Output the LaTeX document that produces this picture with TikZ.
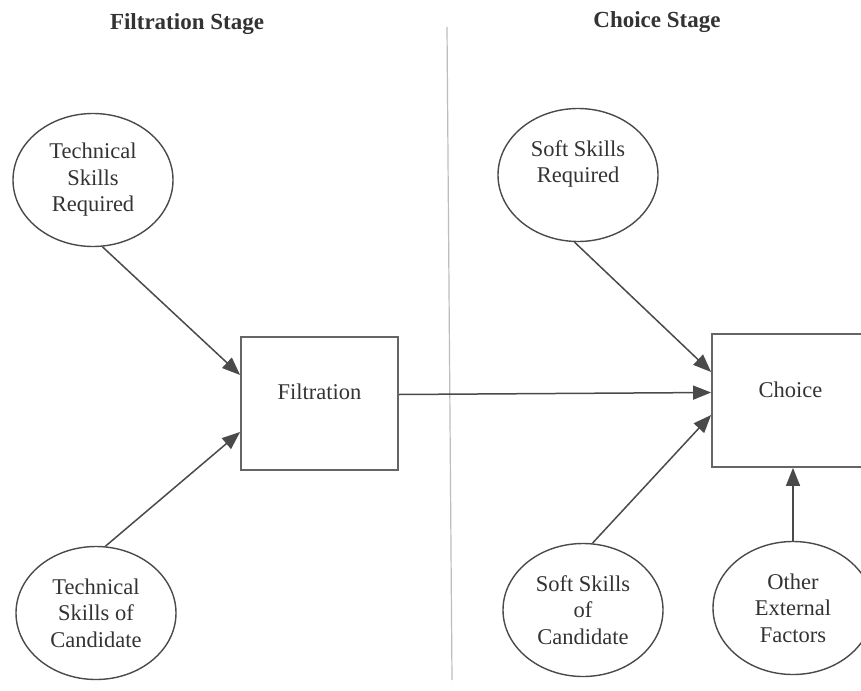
\documentclass[tikz,border=0pt]{standalone}
\usepackage{fontspec}
\setmainfont{Liberation Serif}
\usetikzlibrary{shapes.geometric,arrows.meta}
\definecolor{ink}{HTML}{333333}
\definecolor{edge}{HTML}{4A4A4A}
\definecolor{sep}{HTML}{BDBDBD}
\tikzset{
  bubble/.style={ellipse, draw=edge, line width=1.4pt, minimum width=160pt, minimum height=133pt, inner sep=0pt, align=center, text=ink, font=\fontsize{22.5}{26.5}\selectfont},
  stagebox/.style={rectangle, draw=edge!85, line width=1.8pt, minimum width=157pt, minimum height=133pt, inner sep=0pt, text=ink, font=\fontsize{22.5}{26.5}\selectfont},
  title/.style={text=ink, font=\fontsize{23}{26}\selectfont\bfseries},
  link/.style={draw=edge, line width=1.5pt, -{Triangle[length=18pt,width=14pt]}},
  divider/.style={draw=sep, line width=1.2pt}
}
\begin{document}
\begin{tikzpicture}[x=1pt,y=-1pt]
\clip (0,0) rectangle (861,690);
\fill[white] (0,0) rectangle (861,690);
% titles
\node[title] (t1) at (187,24) {Filtration Stage};
\node[title] (t2) at (657,22) {Choice Stage};
% divider
\coordinate (s1) at (447,27);
\coordinate (s2) at (452,680);
\draw[divider] (s1) -- (s2);
% ellipses
\node[bubble] (treq) at (93,180) {Technical\\Skills\\Required};
\node[bubble] (tcand) at (96,613) {Technical\\Skills of\\Candidate};
\node[bubble] (sreq) at (578,175) {Soft Skills\\Required\\~};
\node[bubble] (scand) at (583,610) {Soft Skills\\of\\Candidate};
\node[bubble] (other) at (793,608) {Other\\External\\Factors};
% boxes
\node[stagebox] (filt) at (319.5,403.5) {\raisebox{4.5pt}[0pt][0pt]{Filtration}};
\node[stagebox] (choice) at (790.5,400.5) {\raisebox{3.5pt}[0pt][0pt]{Choice}};
% connectors
\draw[link] (treq.-82) -- ([yshift=28.5pt]filt.west);
\draw[link] (tcand.82) -- ([yshift=-28.5pt]filt.west);
\draw[link] ([yshift=9pt]filt.east) -- ([yshift=8pt]choice.west);
\draw[link] (sreq.-93) -- ([yshift=28.5pt]choice.west);
\draw[link] (scand.82) -- ([yshift=-14.5pt]choice.west);
\draw[link] (other.north) -- (other.north |- choice.south);
\end{tikzpicture}
\end{document}
